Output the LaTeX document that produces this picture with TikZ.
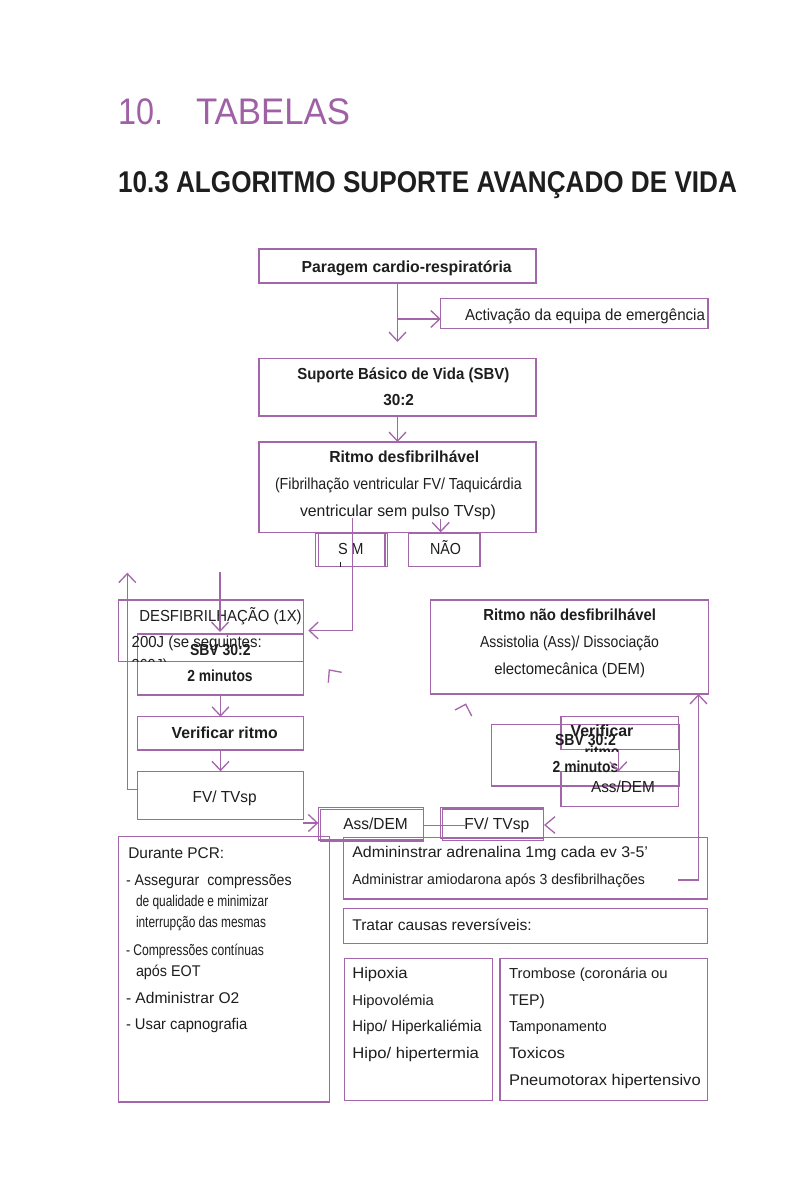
\documentclass[tikz,border=0pt]{standalone}
\usepackage{fontspec}
\setmainfont{Liberation Sans}
\usepackage{graphicx}
\usetikzlibrary{arrows.meta}
\definecolor{pur}{RGB}{164,102,170}
\definecolor{ttl}{RGB}{160,96,166}
\definecolor{ink}{RGB}{30,30,30}
\newcommand\fw[2]{\resizebox{#1pt}{\height}{#2}}
\newcommand\fA{\fontsize{16}{19}\selectfont}
\newcommand\fB{\fontsize{16}{19}\selectfont\bfseries}
\newcommand\fC{\fontsize{15.5}{18}\selectfont}
\newcommand\fD{\fontsize{14.5}{17}\selectfont}
\newcommand\bx[5]{\node[box,minimum width={#4-#2},minimum height={#5-#3}] (#1) at ({(#2+#4)/2},{(#3+#5)/2}) {};}
\newcommand\tx[6]{\node[txt,font=#5] (#1) at (#2,#3) {\fw{#4}{#6}};}
\tikzset{
  box/.style={draw=pur, line width=1.3pt, inner sep=0pt, outer sep=0pt, rectangle},
  txt/.style={inner sep=0pt, outer sep=0pt, anchor=base west, text=ink},
  arr/.style={draw=pur, line width=1.3pt, -{Straight Barb[length=9pt,width=17pt]}},
  ln/.style={draw=pur, line width=1.3pt},
}
\begin{document}
\begin{tikzpicture}[x=1pt,y=-1pt]
\fill[white] (0,0) rectangle (788,1182);
\useasboundingbox (0,0) rectangle (788,1182);
% titles
\node[txt,text=ttl,font=\fontsize{37}{40}\selectfont] (t1) at (118,125) {\fw{45}{10.}};
\node[txt,text=ttl,font=\fontsize{37}{40}\selectfont] (t2) at (196,125) {\fw{154}{TABELAS}};
\node[txt,font=\fontsize{30}{34}\selectfont\bfseries] (t3) at (118,193) {\fw{619}{10.3 ALGORITMO SUPORTE AVANÇADO DE VIDA}};
% boxes
\bx{para}{259}{249}{536}{283}
\bx{activ}{440.7}{298.7}{708}{328.7}
\bx{sbv}{259}{358.7}{536}{416}
\bx{rdes}{259}{442}{536}{532.3}
\bx{sima}{315.3}{533.3}{385}{566.7}
\bx{simb}{318.3}{533.3}{387.3}{566.7}
\bx{nao}{408.3}{533.3}{480}{566.7}
\bx{desf}{118.3}{600}{303.3}{661.7}
\bx{sbvL}{137.7}{634}{303.3}{695}
\bx{verL}{137.7}{716.7}{303.3}{750}
\bx{fvL}{137.7}{771.3}{303.3}{819.3}
\bx{rnd}{430.7}{600}{708.3}{694}
\bx{verR}{561}{716.7}{678.3}{749.3}
\bx{sbvR}{491.7}{724.3}{679.3}{786}
\bx{assR}{561}{771.7}{678.3}{806.7}
\bx{assM}{318.3}{807.3}{423.3}{840}
\bx{assMb}{320.7}{809.3}{423.3}{841.5}
\bx{fvM}{440.7}{807.3}{543.3}{838.5}
\bx{fvMb}{442.5}{809}{543.3}{840.7}
\bx{dur}{118.3}{836.7}{329.3}{1102}
\bx{adr}{343.3}{837.3}{707.7}{899}
\bx{trat}{343.3}{908.3}{707.7}{943.3}
\bx{hip}{344.3}{958.3}{492.3}{1100.7}
\bx{trom}{500}{958.3}{707.7}{1100.7}
% flow texts
\tx{l1}{301.7}{272}{210}{\fB}{Paragem cardio-respiratória}
\tx{l2}{465}{320}{240}{\fA}{Activação da equipa de emergência}
\tx{l3}{297.3}{379.3}{212}{\fB}{Suporte Básico de Vida (SBV)}
\tx{l4}{383.3}{405.7}{30.7}{\fB}{30:2}
\tx{l5}{329.3}{462.3}{150}{\fB}{Ritmo desfibrilhável}
\tx{l6}{275}{489.3}{246.7}{\fA}{(Fibrilhação ventricular FV/ Taquicárdia}
\tx{l7}{300}{516}{196}{\fA}{ventricular sem pulso TVsp)}
\tx{l8}{338}{554.3}{25.5}{\fA}{S\hspace{4pt}M}
\draw[ink,line width=0.8pt] (340,562.3) -- (340,566.7);
\tx{l9}{430}{554.3}{31}{\fA}{NÃO}
\tx{l10}{139.3}{621}{162.4}{\fA}{DESFIBRILHAÇÃO (1X)}
\tx{l11}{131.7}{647.3}{130}{\fA}{200J (se seguintes:}
\begin{scope}
\clip (110,640) rectangle (310,661.7);
\tx{l12}{131.7}{670}{36}{\fA}{360J)}
\end{scope}
\tx{l13}{190}{655}{60.7}{\fB}{SBV 30:2}
\tx{l14}{187.3}{681.7}{65.4}{\fB}{2 minutos}
\tx{l15}{171.7}{738.3}{106}{\fB}{Verificar ritmo}
\tx{l16}{192.7}{802.3}{64}{\fA}{FV/ TVsp}
\tx{l17}{483.3}{620.7}{172.7}{\fB}{Ritmo não desfibrilhável}
\tx{l18}{480}{647.3}{179}{\fA}{Assistolia (Ass)/ Dissociação}
\tx{l19}{494.3}{674}{150.7}{\fA}{electomecânica (DEM)}
\tx{l20}{570.7}{736.7}{62.6}{\fB}{Verificar}
\begin{scope}
\clip (560,740) rectangle (680,751);
\tx{l21}{584.5}{757}{35}{\fB}{ritmo}
\end{scope}
\tx{l22}{555}{745.7}{61}{\fB}{SBV 30:2}
\tx{l23}{552.7}{772.3}{65.6}{\fB}{2 minutos}
\tx{l24}{591}{792.3}{64}{\fA}{Ass/DEM}
\tx{l25}{343.3}{829.3}{64.4}{\fA}{Ass/DEM}
\tx{l26}{464.3}{829.3}{65}{\fA}{FV/ TVsp}
% bottom texts
\tx{b1}{128.3}{858.3}{96}{\fC}{Durante PCR:}
\tx{b2}{126}{885}{165.7}{\fC}{- Assegurar\ \ compressões}
\tx{b3}{136}{906}{132.3}{\fC}{de qualidade e minimizar}
\tx{b4}{136}{927.3}{130}{\fC}{interrupção das mesmas}
\tx{b5}{126}{955}{138}{\fC}{- Compressões contínuas}
\tx{b6}{136}{976.7}{64.7}{\fC}{após EOT}
\tx{b7}{126}{1003.3}{113.3}{\fC}{- Administrar O2}
\tx{b8}{126}{1029.3}{121.3}{\fC}{- Usar capnografia}
\tx{b9}{352.3}{857.7}{295.7}{\fC}{Admininstrar adrenalina 1mg cada ev 3-5'}
\tx{b10}{352.3}{884.3}{292.7}{\fD}{Administrar amiodarona após 3 desfibrilhações}
\tx{b11}{352.3}{930}{179.4}{\fC}{Tratar causas reversíveis:}
\tx{b12}{352.3}{978.3}{55.4}{\fC}{Hipoxia}
\tx{b13}{352.3}{1005.7}{81.7}{\fD}{Hipovolémia}
\tx{b14}{352.3}{1031.7}{129.4}{\fC}{Hipo/ Hiperkaliémia}
\tx{b15}{352.3}{1058.3}{126.7}{\fC}{Hipo/ hipertermia}
\tx{b16}{509}{978.3}{158.7}{\fD}{Trombose (coronária ou}
\tx{b17}{509}{1005.7}{36}{\fC}{TEP)}
\tx{b18}{509}{1031.7}{97.7}{\fD}{Tamponamento}
\tx{b19}{509}{1058.3}{56}{\fC}{Toxicos}
\tx{b20}{509}{1085}{191.7}{\fC}{Pneumotorax hipertensivo}
% connectors
\coordinate (c1) at (397.5,342);
\draw[arr] (para.south) -- (c1);
\coordinate (j1) at (397.5,319);
\draw[arr] (j1) -- (j1 -| activ.west);
\draw[arr] (sbv.south) -- (rdes.north);
\coordinate (c2) at (440.7,519);
\draw[arr] (c2) -- (c2 |- rdes.south);
\coordinate (c4) at (352.7,518.3);
\coordinate (c3) at (308.3,630.5);
\draw[arr] (c4) |- (c3);
\coordinate (c5) at (220,571.7);
\coordinate (c6) at (220,632);
\draw[arr] (c5) -- (c6);
\draw[arr] (sbvL.south) -- (verL.north);
\draw[arr] (verL.south) -- (fvL.north);
\coordinate (c8) at (137.7,789.3);
\coordinate (c7) at (127.3,572.7);
\draw[arr] (c8) -| (c7);
\coordinate (c9) at (303.3,823);
\draw[arr] (c9) -- (c9 -| assM.west);
\coordinate (c10) at (465,825.7);
\draw[ln] (c10 -| assM.east) -- (c10);
\draw[ln] (555,816.7) -- (545,825) -- (555,833.3);
\coordinate (c13) at (678.3,880);
\coordinate (c14) at (698.5,694);
\draw[arr] (c13) -| (c14);
\coordinate (c15) at (618.3,749.3);
\draw[arr] (c15) -- (c15 |- assR.north);
\draw[ln] (328.3,682.7) -- (329.3,670) -- (341.7,672.3);
\draw[ln] (455,710) -- (465.7,704.3) -- (471.7,716);
\end{tikzpicture}
\end{document}
